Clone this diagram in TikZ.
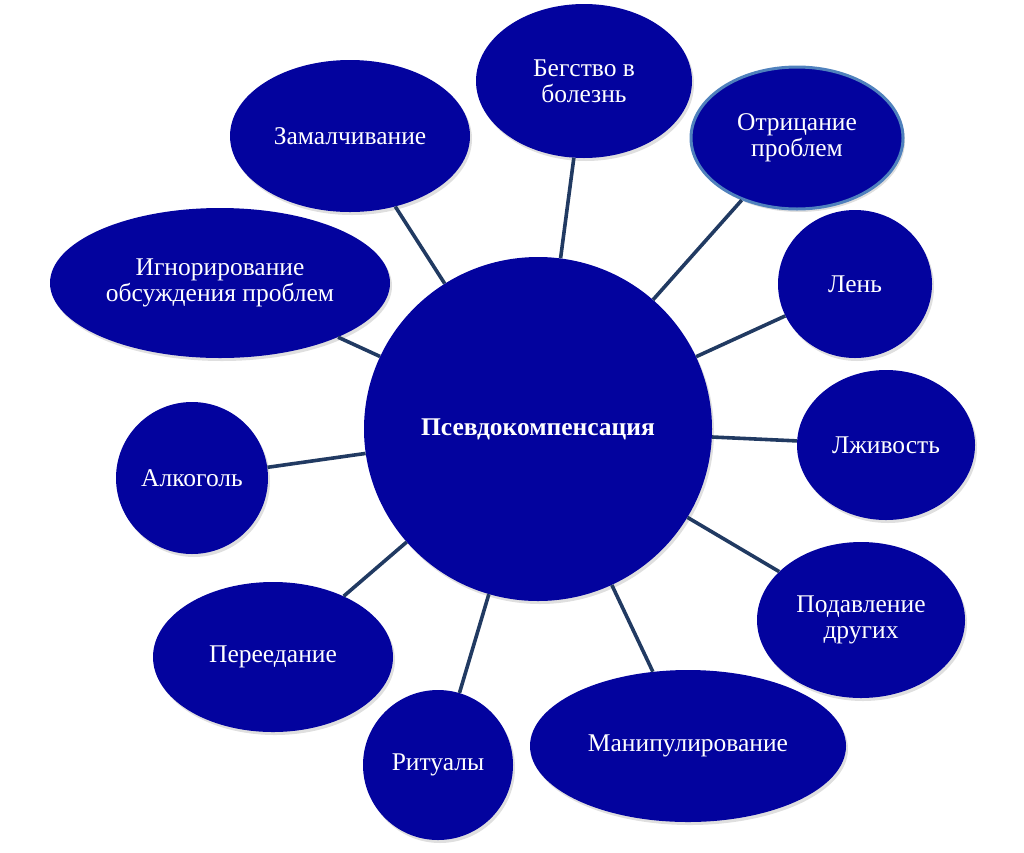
\documentclass[tikz,border=0pt]{standalone}
\usepackage{fontspec}
\setmainfont{Liberation Serif}
\usetikzlibrary{shapes.geometric,shadows}
\definecolor{bubblefill}{RGB}{3,3,158}
\definecolor{linkcol}{RGB}{33,58,98}
\definecolor{rimcol}{RGB}{79,129,189}
\tikzset{
  bubble/.style={ellipse, fill=bubblefill, inner sep=0pt, align=center,
    text=white, font=\fontsize{25.5}{26}\selectfont,
    drop shadow={opacity=0.25, shadow xshift=2pt, shadow yshift=-3pt}},
  link/.style={draw=linkcol, line width=3.6pt},
  rim/.style={draw=rimcol, line width=3pt}
}
\begin{document}
\begin{tikzpicture}[x=1pt,y=-1pt]
\useasboundingbox (0,0) rectangle (1024,852);
% nodes: center (x,y) in image pixels, size = 2rx x 2ry
\node[bubble, minimum width=348pt, minimum height=344pt, font=\fontsize{25.5}{26}\selectfont\bfseries] (c) at (538,429) {Псевдокомпенсация};
\node[bubble, minimum width=216pt, minimum height=154pt] (beg) at (584,81) {Бегство в\\болезнь};
\node[bubble, rim, minimum width=212pt, minimum height=142pt] (otr) at (797,138) {Отрицание\\проблем};
\node[bubble, minimum width=240pt, minimum height=152pt] (zam) at (350,136) {Замалчивание};
\node[bubble, minimum width=340pt, minimum height=150pt] (ign) at (220,283) {Игнорирование\\обсуждения проблем};
\node[bubble, minimum width=154pt, minimum height=148pt] (len) at (855,284) {Лень};
\node[bubble, minimum width=178pt, minimum height=150pt] (lzh) at (886,445) {Лживость};
\node[bubble, minimum width=152pt, minimum height=152pt] (alk) at (192,478) {Алкоголь};
\node[bubble, minimum width=208pt, minimum height=156pt] (pod) at (861,620) {Подавление\\других};
\node[bubble, minimum width=240pt, minimum height=150pt] (per) at (273,657) {Переедание};
\node[bubble, minimum width=150pt, minimum height=150pt] (rit) at (438,765) {Ритуалы};
\node[bubble, minimum width=316pt, minimum height=152pt] (man) at (688,746) {Манипулирование};
% connectors
\foreach \n in {beg,otr,zam,ign,len,lzh,alk,pod,per,rit,man}
  \draw[link] (c) -- (\n);
\end{tikzpicture}
\end{document}
